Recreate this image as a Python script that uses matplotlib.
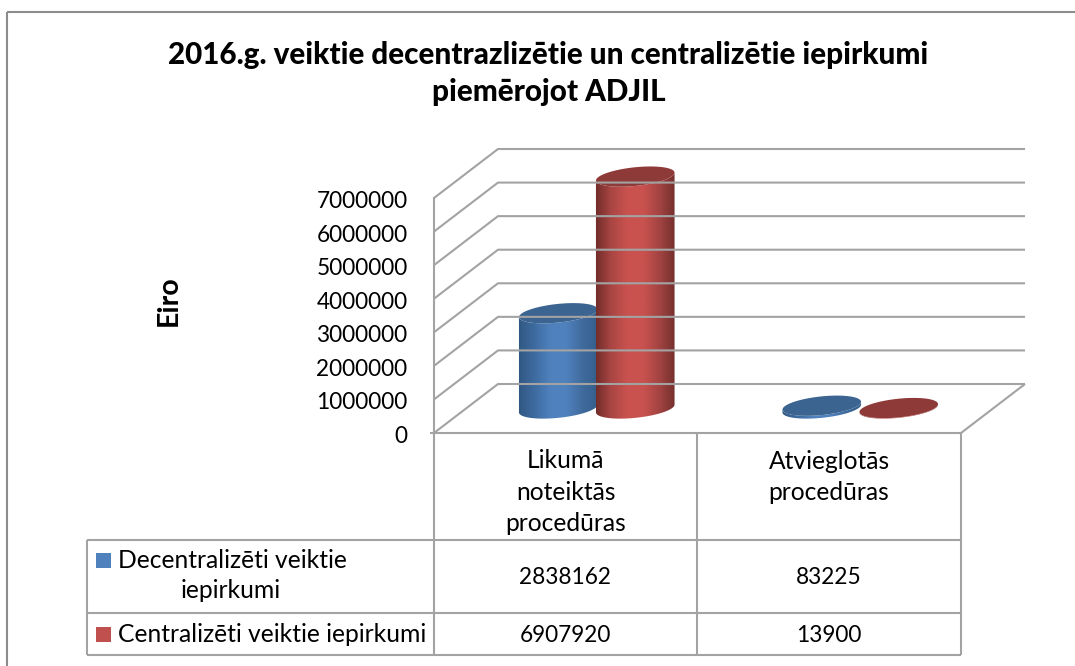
import numpy as np
import matplotlib
matplotlib.use("Agg")
import matplotlib.pyplot as plt
from matplotlib.colors import LinearSegmentedColormap
from matplotlib.patches import Polygon
from matplotlib.transforms import Affine2D, IdentityTransform

plt.rcParams["font.family"] = ["Lato", "DejaVu Sans"]

# data
categories = ["Likumā\nnoteiktās\nprocedūras", "Atvieglotās\nprocedūras"]
decentralized = [2838162, 83225]
centralized = [6907920, 13900]
series_names = ["Decentralizēti veiktie", "iepirkumi", "Centralizēti veiktie iepirkumi"]
yticks = [0, 1000000, 2000000, 3000000, 4000000, 5000000, 6000000, 7000000]
title_lines = ["2016.g. veiktie decentrazlizētie un centralizētie iepirkumi", "piemērojot ADJIL"]

W, H = 1075, 666
GRID = "#a3a3a3"
LINE = "#8c8c8c"

fig = plt.figure(figsize=(W / 100, H / 100), dpi=100)
px = Affine2D().scale(1, -1).translate(0, H)  # top-left pixel coordinates
disp = IdentityTransform()

# axes sit on the front plane of the 3d box
ax = fig.add_axes([434 / W, (H - 433) / H, (961 - 434) / W, (433 - 198) / H])
ax.patch.set_visible(False)
ax.set_xlim(0, 2)
ax.set_ylim(0, 7000000)

DEPTH_X, DEPTH_Y = 64, 49  # px offset front -> back


def line(xs, ys, color=GRID, lw=1.5):
    fig.add_artist(plt.Line2D(xs, ys, transform=px, color=color, lw=lw, solid_capstyle="butt"))


def label(x, y, s, **kw):
    kw.setdefault("fontsize", 17.7)
    kw.setdefault("ha", "center")
    kw.setdefault("va", "center")
    fig.text(x, y, s, transform=px, color="black", **kw)


# outer frame, open on the right and bottom
line([7, 7], [H, 12], LINE, 1.5)
line([7, W], [12, 12], LINE, 1.5)

# walls and floor
for v in yticks:
    xf, yf = ax.transData.transform((0, v))
    yf = H - yf
    line([xf, xf + DEPTH_X, xf + DEPTH_X + 527], [yf, yf - DEPTH_Y, yf - DEPTH_Y])
x_end, y_end = ax.transData.transform((2, 0))
line([x_end, x_end + DEPTH_X], [H - y_end, H - y_end - DEPTH_Y])


def ellipse_points(cx, cy, a, b, tilt, start, stop, n=80):
    # display coords, y up, tilt in radians
    t0 = np.arctan2(-b * np.sin(tilt), a * np.cos(tilt))
    t = np.linspace(t0 + start, t0 + stop, n)
    x = cx + a * np.cos(t) * np.cos(tilt) - b * np.sin(t) * np.sin(tilt)
    y = cy + a * np.cos(t) * np.sin(tilt) + b * np.sin(t) * np.cos(tilt)
    return np.column_stack([x, y])


def cylinder(cat_x, value, side_colors, top_color, z):
    a, b, tilt = 39.5, 9.3, np.radians(6)
    cx, cy = ax.transData.transform((cat_x, 0))
    cx += DEPTH_X / 2 - 1
    cy += DEPTH_Y / 2
    top_y = ax.transData.transform((cat_x, value))[1] + DEPTH_Y / 2
    lower = ellipse_points(cx, cy, a, b, tilt, np.pi, 2 * np.pi)
    upper = ellipse_points(cx, top_y, a, b, tilt, 2 * np.pi, np.pi)
    body = Polygon(np.vstack([lower, upper]), closed=True, transform=disp, facecolor="none", edgecolor="none")
    ax.add_patch(body)
    cmap = LinearSegmentedColormap.from_list("c", side_colors)
    grad = np.linspace(0, 1, 200).reshape(1, -1)
    ymin, ymax = cy - a, top_y + a
    im = ax.imshow(grad, cmap=cmap, extent=(cx - a - 2, cx + a + 2, ymin, ymax), aspect="auto",
                   transform=disp, zorder=z)
    im.set_clip_path(body)
    im.set_clip_box(fig.bbox)
    cap = ellipse_points(cx, top_y, a, b, tilt, 0, 2 * np.pi)
    ax.add_patch(Polygon(cap, closed=True, transform=disp, facecolor=top_color, edgecolor="none", zorder=z, clip_on=False))


blue_side = ["#2f5680", "#3d6a9e", "#4f81bd", "#4f81bd", "#3f6a9c", "#345d8a"]
red_side = ["#6b2a28", "#a84543", "#c9524f", "#c9524f", "#a04341", "#702d2b"]
group_x = [0.5, 1.5]
bar_off = 38.5 / 263.5
for i, gx in enumerate(group_x):
    cylinder(gx - bar_off, decentralized[i], blue_side, "#3b6491", 3)
    cylinder(gx + bar_off, centralized[i], red_side, "#8e3a38", 4)

ax.set_xlim(0, 2)
ax.set_ylim(0, 7000000)
ax.set_xticks([])
ax.set_yticks(yticks)
ax.set_yticklabels([str(v) for v in yticks], fontsize=16.3)
ax.tick_params(axis="y", length=0, pad=19, labelcolor="black")
for t in ax.get_yticklabels():
    t.set_transform(t.get_transform() + Affine2D().translate(0, -1.5))
for name, sp in ax.spines.items():
    sp.set_visible(name == "left")
ax.spines["left"].set_color(GRID)
ax.spines["left"].set_linewidth(1.5)

# data table below the plot
col_x = [87, 434, 697, 961]
row_y = [540, 613, 655]
line([430, 961], [433, 433])
for x in col_x[1:]:
    line([x, x], [433, row_y[-1]])
line([col_x[0], col_x[0]], [row_y[0], row_y[-1]])
for y in row_y:
    line([col_x[0], col_x[-1]], [y, y])

for i, c in enumerate(categories):
    label((col_x[i + 1] + col_x[i + 2]) / 2, 492 if i == 0 else 477, c, linespacing=1.43)

swatches = ["#4f81bd", "#c0504d"]
swatch_y = [560.5, 634.5]
for i, (vals, y) in enumerate(zip([decentralized, centralized], [577, 635])):
    for j, v in enumerate(vals):
        label((col_x[j + 1] + col_x[j + 2]) / 2, y, str(v), fontsize=16.3)
    fig.add_artist(plt.Rectangle((96, swatch_y[i] - 7.5), 15, 15, transform=px, facecolor=swatches[i], edgecolor="none"))

label(118, 560, series_names[0], ha="left")
label(231, 591, series_names[1])
label(118, 634, series_names[2], ha="left")

label(548.5, 55, title_lines[0], fontsize=21.35, fontweight="black")
label(548.5, 92, title_lines[1], fontsize=21.35, fontweight="black")
label(169, 301, "Eiro", fontsize=20.5, fontweight="bold", rotation=90)

fig.savefig("out.png", dpi=100)
